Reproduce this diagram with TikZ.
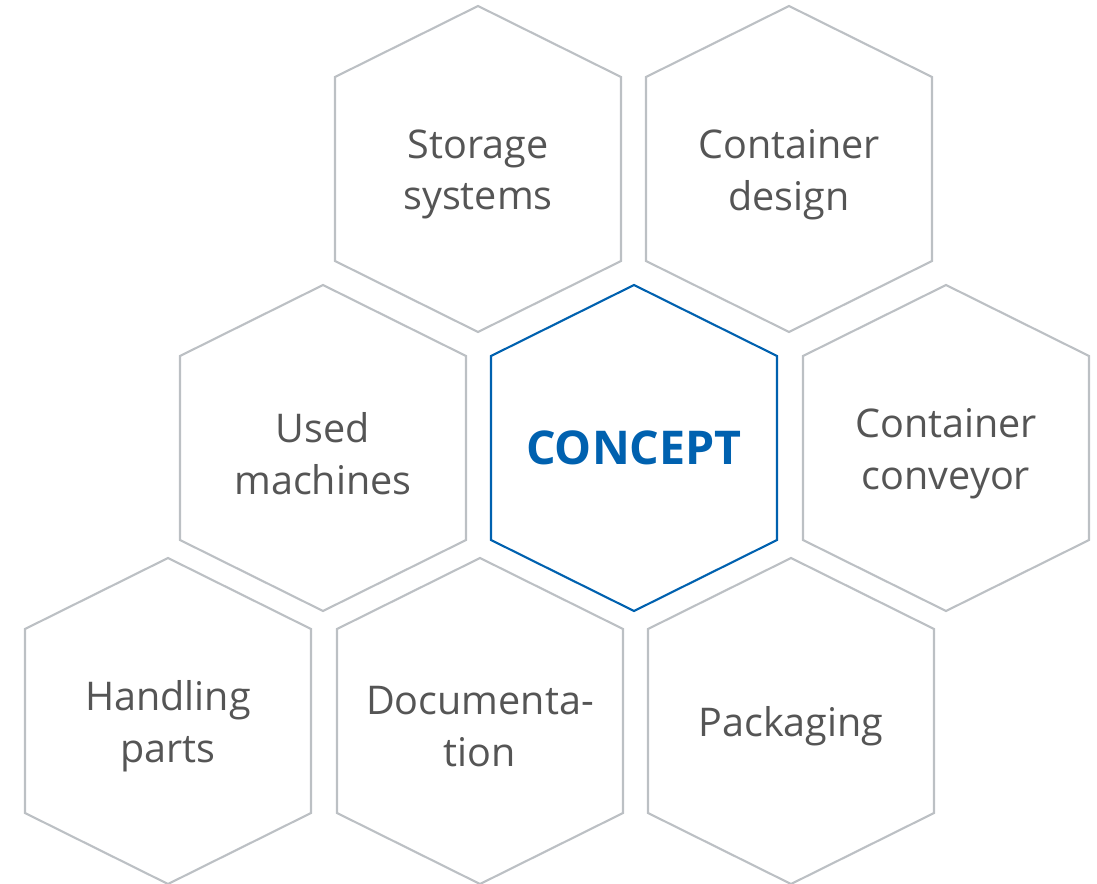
\documentclass[tikz,border=0pt]{standalone}
\usepackage{fontspec}
\setmainfont{Open Sans}
\definecolor{hexgrey}{RGB}{188,192,196}
\definecolor{hexblue}{RGB}{0,97,175}
\definecolor{txtgrey}{RGB}{85,85,85}
\tikzset{
    hexline/.style={draw=hexgrey, line width=1.2pt, line join=miter},
    hextext/.style={align=center, text=txtgrey, yshift=-0.11cm, font=\fontsize{22.5}{29.5}\selectfont},
    keyline/.style={draw=hexblue, line width=1.2pt, line join=miter},
    keytext/.style={align=center, text=hexblue, font=\fontsize{26.5}{30}\selectfont\bfseries}
}
\begin{document}
\begin{tikzpicture}[x=0.02cm, y=-0.02cm]
        \useasboundingbox (0,0) rectangle (1097,884);

        % outer hexagons
        \foreach \name/\x/\y/\txt in {
            storage/478/169/{Storage\\systems},
            contdesign/789/169/{Container\\design},
            usedmach/323/448/{Used\\machines},
            contconv/946/448/{Container\\conveyor},
            handling/168/721/{Handling\\parts},
            docu/480/721/{Documenta-\\tion},
            packaging/791/721/{Packaging}}
        {
            \node[hextext] (\name) at (\x,\y) {\txt};
            \draw[hexline] (\x,\y) +(0,-163) -- +(143,-92) -- +(143,92)
                -- +(0,163) -- +(-143,92) -- +(-143,-92) -- cycle;
        }

        % centre hexagon
        \node[keytext] (concept) at (634,448) {CONCEPT};
        \draw[keyline] (concept.center) +(0,-163) -- +(143,-92) -- +(143,92)
            -- +(0,163) -- +(-143,92) -- +(-143,-92) -- cycle;

    \end{tikzpicture}
\end{document}
